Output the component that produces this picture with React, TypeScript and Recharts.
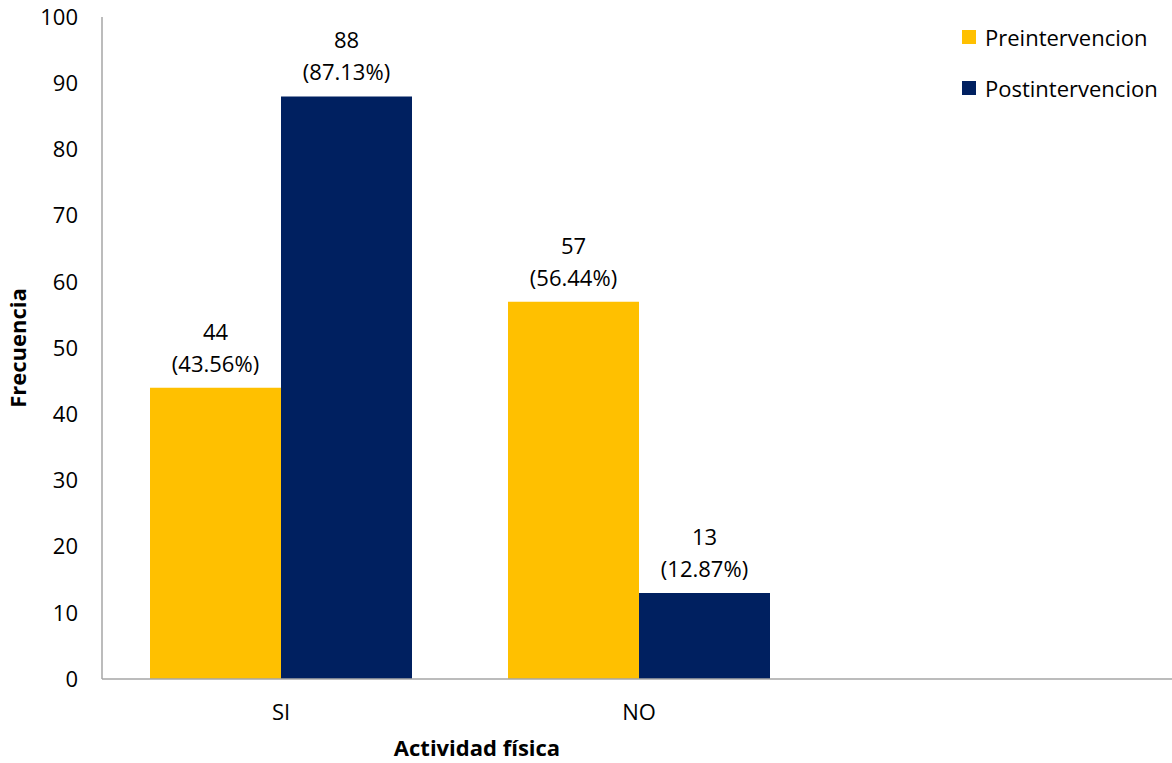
import { BarChart, Bar, XAxis, YAxis, LabelList } from 'recharts'

const categories = ['SI', 'NO', '']
const preValues = [44, 57, null]
const postValues = [88, 13, null]
const prePercents = ['43.56%', '56.44%', '']
const postPercents = ['87.13%', '12.87%', '']
const yTicks = [0, 10, 20, 30, 40, 50, 60, 70, 80, 90, 100]

const FONT = '"Open Sans", "Liberation Sans", sans-serif'
const FS = 22
const YELLOW = '#FFC000'
const NAVY = '#002060'

const data = categories.map((name, i) => ({
  name,
  pre: preValues[i],
  post: postValues[i]
}))

const makeLabel = (pcts: string[]) => (props: any) => {
  const { x, y, width, value, index } = props
  if (value == null) return null
  const cx = x + width / 2
  return (
    <text x={cx} textAnchor="middle" fontFamily={FONT} fontSize={FS} fill="#000">
      <tspan x={cx} y={y - 48}>{value}</tspan>
      <tspan x={cx} y={y - 16}>({pcts[index]})</tspan>
    </text>
  )
}

const legendItems = [
  { label: 'Preintervencion', color: YELLOW },
  { label: 'Postintervencion', color: NAVY }
]

export default function App() {
  return (
    <div style={{ position: 'absolute', left: 0, top: 0, width: 1172, height: 763, background: '#fff', overflow: 'hidden' }}>
      <BarChart
        width={1172}
        height={763}
        data={data}
        margin={{ top: 17, right: -4, left: 42, bottom: 0 }}
        barGap={0}
        barSize={131}
      >
        <XAxis
          dataKey="name"
          axisLine={{ stroke: '#a6a6a6', strokeWidth: 1.5 }}
          tickLine={false}
          tickSize={0}
          tickMargin={25}
          tick={{ fontFamily: FONT, fontSize: FS, fill: '#000' }}
          height={84}
          label={{
            value: 'Actividad física',
            position: 'insideBottom',
            offset: 7,
            dx: -162,
            style: { fontFamily: FONT, fontSize: FS, fontWeight: 'bold', fill: '#000' }
          }}
        />
        <YAxis
          domain={[0, 100]}
          ticks={yTicks}
          width={60}
          axisLine={{ stroke: '#a6a6a6', strokeWidth: 1.5 }}
          tickLine={false}
          tickSize={0}
          tickMargin={24}
          tick={{ fontFamily: FONT, fontSize: FS, fill: '#000' }}
          label={{
            value: 'Frecuencia',
            angle: -90,
            position: 'insideLeft',
            offset: -24,
            style: { fontFamily: FONT, fontSize: FS, fontWeight: 'bold', fill: '#000', textAnchor: 'middle' }
          }}
        />
        <Bar dataKey="pre" name="Preintervencion" fill={YELLOW} isAnimationActive={false}>
          <LabelList dataKey="pre" content={makeLabel(prePercents)} />
        </Bar>
        <Bar dataKey="post" name="Postintervencion" fill={NAVY} isAnimationActive={false}>
          <LabelList dataKey="post" content={makeLabel(postPercents)} />
        </Bar>
      </BarChart>
      <div style={{ position: 'absolute', left: 962, top: 11, fontFamily: FONT, fontSize: FS, color: '#000' }}>
        {legendItems.map((it) => (
          <div key={it.label} style={{ display: 'flex', alignItems: 'center', height: 51 }}>
            <span style={{ width: 14, height: 14, background: it.color, marginRight: 9, display: 'inline-block' }} />
            {it.label}
          </div>
        ))}
      </div>
    </div>
  )
}
